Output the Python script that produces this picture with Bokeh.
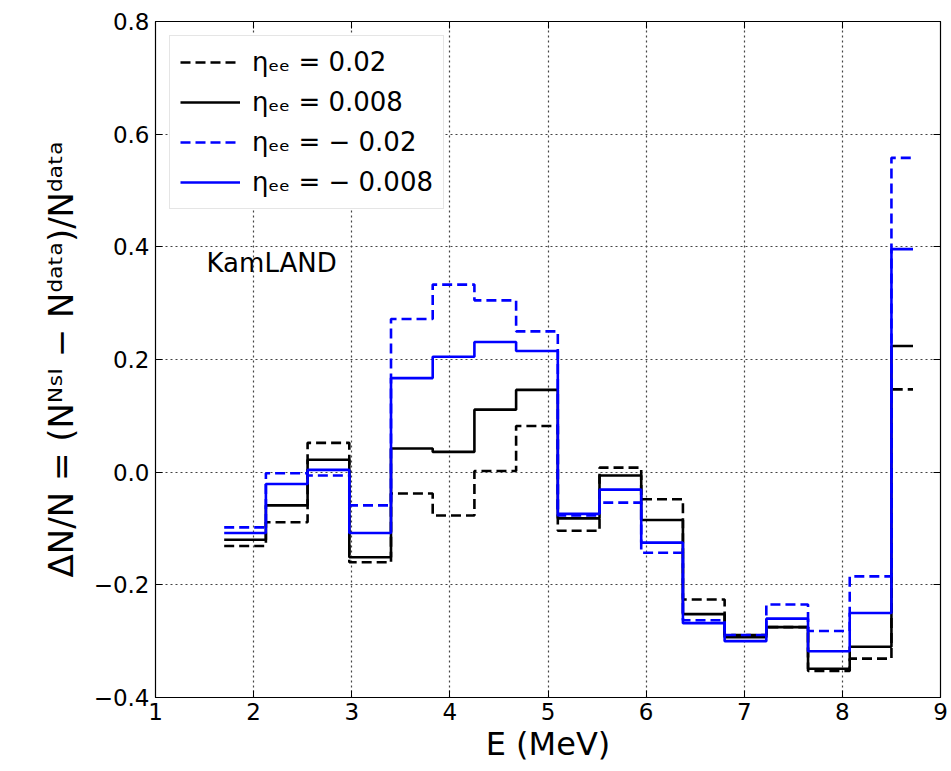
from bokeh.plotting import figure
from bokeh.models import FixedTicker, LinearAxis, Range1d, Legend, LegendItem, Label
from bokeh.embed import file_html
from bokeh.resources import INLINE

# bin edges (MeV); the last entry closes the final short bin
edges = [1.7, 2.125, 2.55, 2.975, 3.4, 3.825, 4.25, 4.675, 5.1, 5.525,
         5.95, 6.375, 6.8, 7.225, 7.65, 8.075, 8.5, 8.72]

eta_p020 = [-0.131, -0.089, 0.052, -0.160, -0.038, -0.077, 0.002, 0.082, -0.104,
            0.008, -0.048, -0.226, -0.289, -0.275, -0.353, -0.331, 0.147]
eta_p008 = [-0.120, -0.059, 0.022, -0.151, 0.042, 0.036, 0.111, 0.146, -0.082,
            -0.006, -0.085, -0.252, -0.293, -0.275, -0.349, -0.310, 0.224]
eta_m020 = [-0.098, -0.002, -0.006, -0.059, 0.272, 0.333, 0.305, 0.250, -0.077,
            -0.054, -0.143, -0.263, -0.289, -0.235, -0.282, -0.185, 0.558]
eta_m008 = [-0.108, -0.021, 0.004, -0.108, 0.167, 0.205, 0.231, 0.215, -0.074,
            -0.031, -0.125, -0.268, -0.300, -0.260, -0.318, -0.250, 0.396]

labels = ["ηₑₑ = 0.02", "ηₑₑ = 0.008", "ηₑₑ = − 0.02", "ηₑₑ = − 0.008"]
x_ticks = [1, 2, 3, 4, 5, 6, 7, 8, 9]
y_ticks = [-0.4, -0.2, 0.0, 0.2, 0.4, 0.6, 0.8]
y_tick_labels = ["−0.4", "−0.2", "0.0", "0.2", "0.4", "0.6", "0.8"]

FONT = "DejaVu Sans"

p = figure(width=951, height=771, output_backend="svg", toolbar_location=None,
           x_range=Range1d(1, 9), y_range=Range1d(-0.4, 0.8),
           min_border_left=155, min_border_right=11, min_border_top=21,
           min_border_bottom=74)
p.background_fill_color = "white"
p.border_fill_color = "white"
p.outline_line_color = "black"
p.outline_line_width = 1.2

series = [
    (eta_p020, "black", "10 5"),
    (eta_p008, "black", "solid"),
    (eta_m020, "blue", "10 5"),
    (eta_m008, "blue", "solid"),
]
items = []
for (vals, col, dash), lab in zip(series, labels):
    ys = list(vals) + [vals[-1]]
    r = p.step(x=edges, y=ys, mode="after", line_color=col, line_width=2.6,
               line_dash=dash)
    items.append(LegendItem(label=lab, renderers=[r]))

# axes styling
for ax in (p.xaxis[0], p.yaxis[0]):
    ax.axis_line_color = None
    ax.major_tick_in = 7
    ax.major_tick_out = 0
    ax.minor_tick_line_color = None
    ax.major_tick_line_color = "black"
    ax.major_label_text_font = FONT
    ax.major_label_text_font_size = "23px"
    ax.major_label_text_color = "black"
    ax.axis_label_text_font = FONT
    ax.axis_label_text_font_style = "normal"
    ax.axis_label_text_color = "black"

p.xaxis[0].ticker = FixedTicker(ticks=x_ticks)
p.yaxis[0].ticker = FixedTicker(ticks=y_ticks)
p.yaxis[0].major_label_overrides = {t: l for t, l in zip(y_ticks, y_tick_labels)}
p.xaxis[0].axis_label = "E (MeV)"
p.xaxis[0].axis_label_text_font_size = "32px"
p.xaxis[0].axis_label_standoff = 2
p.yaxis[0].axis_label = "ΔN/N = (Nᴺˢᴵ − Nᵈᵃᵗᵃ)/Nᵈᵃᵗᵃ"
p.yaxis[0].axis_label_text_font_size = "34px"
p.yaxis[0].axis_label_standoff = 10
p.xaxis[0].major_label_standoff = 5
p.yaxis[0].major_label_standoff = 6

# mirrored ticks on top and right (labels not drawn)
top = LinearAxis(ticker=FixedTicker(ticks=x_ticks), major_tick_in=7, major_tick_out=0,
                 minor_tick_line_color=None, axis_line_color=None,
                 major_label_text_color=None, major_label_text_font_size="1px",
                 major_label_standoff=0)
right = LinearAxis(ticker=FixedTicker(ticks=y_ticks), major_tick_in=7, major_tick_out=0,
                   minor_tick_line_color=None, axis_line_color=None,
                   major_label_text_color=None, major_label_text_font_size="1px",
                   major_label_standoff=0)
p.add_layout(top, "above")
p.add_layout(right, "right")

p.xgrid.ticker = FixedTicker(ticks=x_ticks)
p.ygrid.ticker = FixedTicker(ticks=y_ticks)
for g in (p.xgrid[0], p.ygrid[0]):
    g.grid_line_color = "#444444"
    g.grid_line_dash = "2 3"
    g.grid_line_width = 1.2

legend = Legend(items=items, location="top_left")
legend.label_text_font = FONT
legend.label_text_font_size = "26px"
legend.label_text_color = "black"
legend.glyph_width = 60
legend.glyph_height = 32
legend.label_height = 32
legend.label_standoff = 12
legend.spacing = 8
legend.padding = 10
legend.margin = 14
legend.border_line_color = "#cccccc"
legend.border_line_width = 1.2
legend.background_fill_alpha = 1.0
p.add_layout(legend)

p.add_layout(Label(x=1.52, y=0.372, text="KamLAND", text_font=FONT,
                   text_font_size="26px", text_color="black",
                   text_baseline="middle", text_align="left"))

open("out.html", "w").write(file_html(p, INLINE))
